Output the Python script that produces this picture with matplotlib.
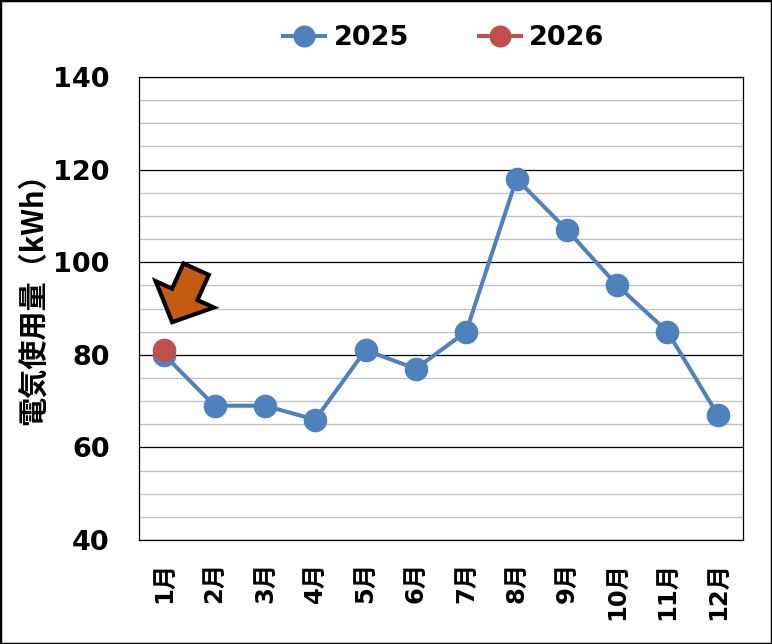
import matplotlib
matplotlib.use('Agg')
import matplotlib.pyplot as plt
from matplotlib.patches import Rectangle
from matplotlib.transforms import offset_copy
import numpy as np

# データ
months = ['1月', '2月', '3月', '4月', '5月', '6月', '7月', '8月', '9月', '10月', '11月', '12月']
usage_2025 = [80, 69, 69, 66, 81, 77, 85, 118, 107, 95, 85, 67]
usage_2026 = [81, None, None, None, None, None, None, None, None, None, None, None]
y_ticks = [40, 60, 80, 100, 120, 140]

# フォント
plt.rcParams['font.family'] = ['DejaVu Sans', 'Noto Sans CJK JP']
plt.rcParams['font.weight'] = 'bold'

blue = '#4F81BD'
red = '#C0504D'

fig = plt.figure(figsize=(7.72, 6.44), dpi=100)
ax = fig.add_axes([139 / 772, 1 - 540 / 644, 604 / 772, 463 / 644])

x = np.arange(len(months))
y25 = np.array(usage_2025, dtype=float)
y26 = np.array([np.nan if v is None else v for v in usage_2026], dtype=float)

ax.plot(x, y25, color=blue, linewidth=2.9, marker='o', markersize=16,
        label='2025', zorder=3)
ax.plot(x, y26, color=red, linewidth=2.9, marker='o', markersize=16,
        label='2026', zorder=4)

# 軸
ax.set_xlim(-0.5, len(months) - 0.5)
ax.set_ylim(40, 140)
ax.set_yticks(y_ticks)
ax.set_yticks(np.arange(40, 141, 5), minor=True)
ax.grid(axis='y', which='minor', color='#BFBFBF', linewidth=0.9, zorder=0)
ax.grid(axis='y', which='major', color='black', linewidth=0.9, zorder=1)
ax.set_axisbelow(True)
ax.set_xticks(x)
ax.set_xticklabels(months, rotation=90, fontsize=17.5, fontweight='bold')
ax.tick_params(axis='y', which='both', length=0, pad=21, labelsize=19.5)
ax.tick_params(axis='x', length=0, pad=16)
for s in ax.spines.values():
    s.set_color('black')
    s.set_linewidth(0.9)

fig.text(33 / 772, 1 - 292 / 644, '電気使用量（kWh）', rotation=90,
         ha='center', va='center', fontsize=21, fontweight='bold',
         family=['Noto Sans CJK JP', 'DejaVu Sans'])

# 凡例
ax.legend(loc='center', bbox_to_anchor=(444 / 772, 1 - 38 / 644),
          bbox_transform=fig.transFigure, ncol=2, frameon=False,
          fontsize=19.5, handlelength=1.55, handletextpad=0.3,
          columnspacing=2.6, markerscale=0.93)

# 矢印 (2026年1月の点を指す)
tip = offset_copy(ax.transData, fig=fig, x=8, y=28, units='dots')
ax.annotate('', xy=(x[0], y26[0]), xycoords=tip,
            xytext=(24, 53), textcoords='offset pixels',
            arrowprops=dict(arrowstyle='simple,head_length=22,head_width=46,tail_width=20',
                            mutation_scale=1, facecolor='#C55A11', edgecolor='black',
                            linewidth=3, shrinkA=0, shrinkB=0, joinstyle='miter'),
            zorder=5)

# 外枠
fig.patches.append(Rectangle((0, 0), 1, 1, transform=fig.transFigure, fill=False,
                             edgecolor='black', linewidth=2.5))

fig.savefig('out.png', dpi=100)
